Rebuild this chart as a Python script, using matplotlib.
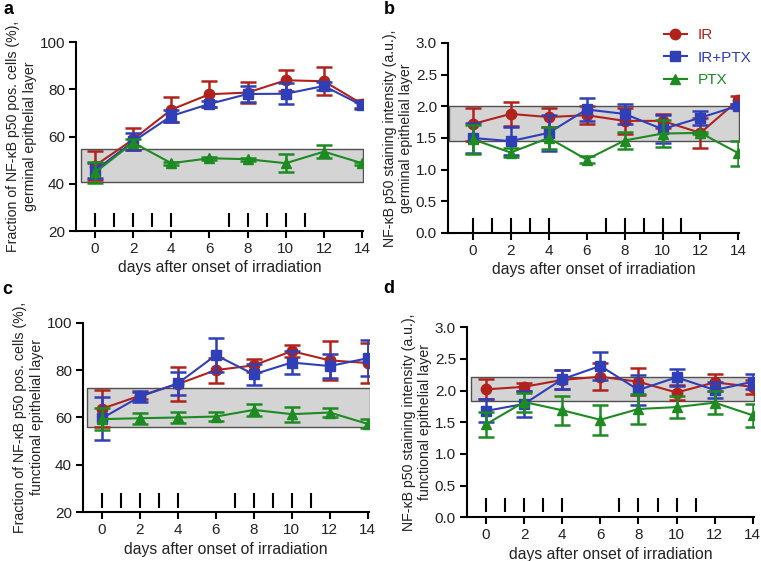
import matplotlib
matplotlib.use('Agg')
import matplotlib.pyplot as plt
from matplotlib.lines import Line2D
import numpy as np

plt.rcParams['font.family'] = ['Liberation Sans', 'DejaVu Sans']

days = [0, 2, 4, 6, 8, 10, 12, 14]
irr_days = [0, 1, 2, 3, 4, 7, 8, 9, 10, 11]

# panel a: fraction positive, germinal layer
a_ir = [47.7, 58.8, 71.4, 77.9, 78.6, 83.8, 83.4, 73.8]
a_ir_err = [6.3, 4.7, 5.2, 5.6, 4.6, 4.4, 6.0, 1.8]
a_irptx = [45.6, 57.9, 68.7, 73.8, 78.0, 78.1, 81.4, 73.2]
a_irptx_err = [3.0, 3.6, 2.6, 1.2, 3.4, 4.4, 1.8, 1.4]
a_ptx = [44.8, 57.4, 48.7, 50.8, 50.4, 48.7, 53.6, 48.7]
a_ptx_err = [4.4, 1.5, 0.6, 0.6, 0.6, 3.8, 2.7, 0.6]
a_band = (40.8, 54.6)

# panel b: staining intensity, germinal layer
b_ir = [1.72, 1.88, 1.83, 1.86, 1.77, 1.77, 1.58, 2.10]
b_ir_err = [0.26, 0.19, 0.15, 0.14, 0.21, 0.11, 0.24, 0.06]
b_irptx = [1.50, 1.45, 1.58, 1.95, 1.88, 1.64, 1.82, 2.01]
b_irptx_err = [0.24, 0.22, 0.28, 0.18, 0.16, 0.22, 0.11, 0.03]
b_ptx = [1.48, 1.27, 1.50, 1.16, 1.46, 1.57, 1.58, 1.26]
b_ptx_err = [0.23, 0.07, 0.17, 0.05, 0.14, 0.21, 0.02, 0.20]
b_band = (1.46, 2.0)

# panel c: fraction positive, functional layer
c_ir = [63.7, 69.2, 74.1, 80.0, 82.0, 88.0, 84.1, 83.0]
c_ir_err = [7.8, 1.5, 7.3, 5.3, 2.8, 2.6, 8.1, 8.4]
c_irptx = [59.7, 68.8, 74.4, 86.3, 78.2, 83.2, 81.7, 85.0]
c_irptx_err = [9.0, 2.4, 5.0, 7.1, 4.3, 5.0, 5.0, 7.5]
c_ptx = [59.3, 59.7, 60.0, 60.4, 63.2, 61.4, 62.1, 57.3]
c_ptx_err = [4.5, 2.4, 2.2, 2.0, 2.5, 3.1, 1.7, 1.9]
c_band = (56.2, 72.4)

# panel d: staining intensity, functional layer
d_ir = [2.02, 2.06, 2.17, 2.22, 2.14, 1.97, 2.13, 2.06]
d_ir_err = [0.16, 0.06, 0.15, 0.21, 0.21, 0.12, 0.14, 0.11]
d_irptx = [1.68, 1.79, 2.18, 2.39, 2.01, 2.21, 2.01, 2.14]
d_irptx_err = [0.18, 0.20, 0.15, 0.22, 0.23, 0.13, 0.13, 0.12]
d_ptx = [1.47, 1.82, 1.69, 1.54, 1.71, 1.74, 1.81, 1.61]
d_ptx_err = [0.20, 0.15, 0.23, 0.24, 0.24, 0.17, 0.18, 0.18]
d_band = (1.83, 2.21)

red = '#B2221C'
blue = '#2F3FB8'
green = '#1D8A22'

fig = plt.figure(figsize=(7.61, 5.61), dpi=100)

panels = [
    ('a', [0.0999, 0.5882, 0.3771, 0.3369], (-1.0, 14.05), (20, 100), [20, 40, 60, 80, 100], '%d',
     a_ir, a_ir_err, a_irptx, a_irptx_err, a_ptx, a_ptx_err, a_band, (-0.75, 14.05), (21.8, 27.8),
     'Fraction of NF-\u03baB p50 pos. cells (%),\ngerminal epithelial layer', (0.004, 0.983)),
    ('b', [0.5887, 0.5847, 0.3829, 0.3387], (-1.3, 14.05), (0, 3.0), [0, 0.5, 1.0, 1.5, 2.0, 2.5, 3.0], '%.1f',
     b_ir, b_ir_err, b_irptx, b_irptx_err, b_ptx, b_ptx_err, b_band, (-1.25, 14.05), (0.0, 0.24),
     'NF-\u03baB p50 staining intensity (a.u.),\ngerminal epithelial layer', (0.504, 0.983)),
    ('c', [0.1091, 0.0868, 0.3753, 0.3380], (-1.0, 14.05), (20, 100), [20, 40, 60, 80, 100], '%d',
     c_ir, c_ir_err, c_irptx, c_irptx_err, c_ptx, c_ptx_err, c_band, (-0.8, 14.1), (22.0, 28.0),
     'Fraction of NF-\u03baB p50 pos. cells (%),\nfunctional epithelial layer', (0.003, 0.484)),
    ('d', [0.6137, 0.0779, 0.3767, 0.3387], (-1.0, 14.05), (0, 3.0), [0, 0.5, 1.0, 1.5, 2.0, 2.5, 3.0], '%.1f',
     d_ir, d_ir_err, d_irptx, d_irptx_err, d_ptx, d_ptx_err, d_band, (-0.8, 14.05), (0.09, 0.3),
     'NF-\u03baB p50 staining intensity (a.u.),\nfunctional epithelial layer', (0.504, 0.486)),
]

for (letter, rect, xlim, ylim, yticks, fmt, ir, ir_e, irp, irp_e, ptx, ptx_e,
     band, band_x, mark_y, ylabel, letter_pos) in panels:
    ax = fig.add_axes(rect)
    ax.fill_between(band_x, band[0], band[1], facecolor='#D4D4D4', edgecolor='#505050',
                    linewidth=1.0, zorder=1)
    ax.vlines(irr_days, mark_y[0], mark_y[1], color='black', linewidth=1.5, zorder=2)

    kw = dict(linewidth=1.5, markersize=7.5, capsize=5.5, capthick=1.8, elinewidth=1.8)
    ax.errorbar(days, ir, yerr=ir_e, color=red, marker='o', zorder=3, **kw)
    ax.errorbar(days, irp, yerr=irp_e, color=blue, marker='s', zorder=4, **kw)
    ax.errorbar(days, ptx, yerr=ptx_e, color=green, marker='^', zorder=5, **kw)

    ax.set_xlim(*xlim)
    ax.set_ylim(*ylim)
    ax.set_xticks(days)
    ax.set_yticks(yticks)
    ax.set_yticklabels([fmt % v for v in yticks])
    for s in ['top', 'right']:
        ax.spines[s].set_visible(False)
    for s in ['left', 'bottom']:
        ax.spines[s].set_linewidth(1.5)
    ax.tick_params(width=1.5, length=5, labelsize=11, colors='black', labelcolor='#222222', pad=3)
    ax.set_xlabel('days after onset of irradiation', fontsize=11.3, color='#222222', labelpad=3)
    ax.set_ylabel(ylabel, fontsize=10.2, color='#222222', labelpad=2, linespacing=1.2)

    if letter == 'b':
        handles = [Line2D([], [], color=red, marker='o', markersize=7.5, linewidth=1.5),
                   Line2D([], [], color=blue, marker='s', markersize=7.5, linewidth=1.5),
                   Line2D([], [], color=green, marker='^', markersize=7.5, linewidth=1.5)]
        leg = ax.legend(handles, ['IR', 'IR+PTX', 'PTX'], loc='upper left',
                        bbox_to_anchor=(0.72, 1.11), frameon=False, fontsize=11,
                        handlelength=1.5, handletextpad=0.7, borderaxespad=0, labelspacing=0.55)
        for txt, c in zip(leg.get_texts(), [red, blue, green]):
            txt.set_color(c)

    fig.text(letter_pos[0], letter_pos[1], letter, fontsize=13, fontweight='bold',
             va='center', ha='left')

plt.savefig('out.png', dpi=100)
